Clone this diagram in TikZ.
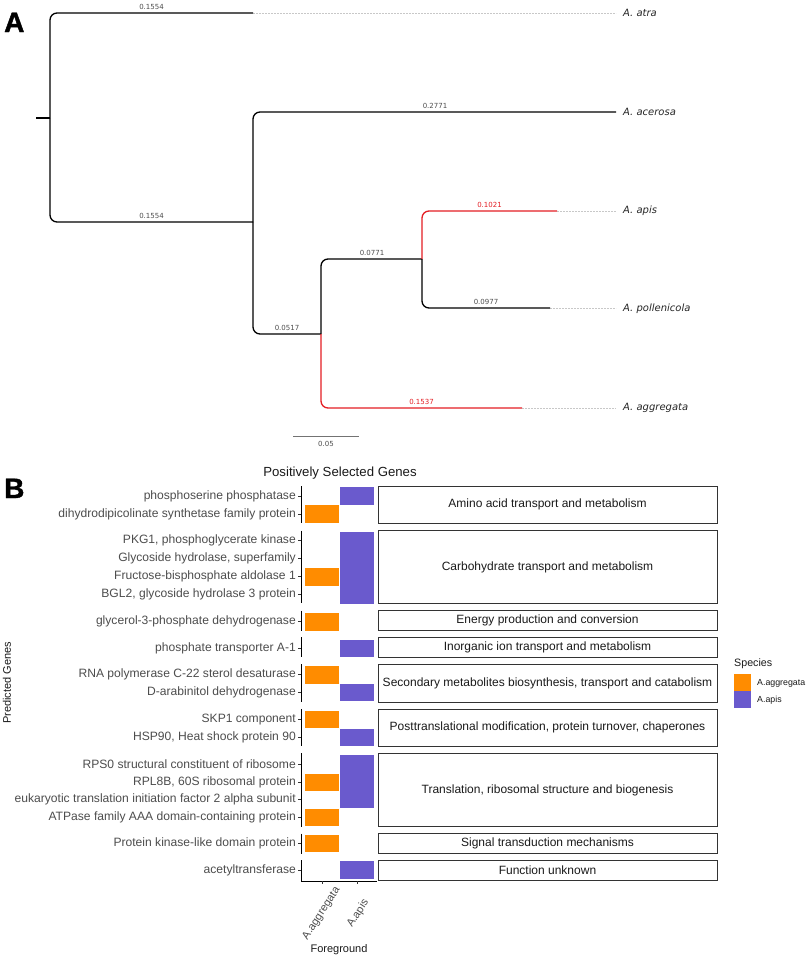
\documentclass[tikz,border=0pt]{standalone}
\usepackage{fontspec}
\setmainfont{Liberation Sans}
\newfontfamily\dejavu{DejaVu Sans}
\newfontfamily\heavy[FakeBold=1.5]{Liberation Sans Bold}
\definecolor{treered}{RGB}{228,30,36}
\definecolor{extgray}{RGB}{200,200,200}
\definecolor{orng}{RGB}{255,140,0}
\definecolor{purp}{RGB}{106,90,205}
\definecolor{txtgray}{RGB}{77,77,77}
\definecolor{darktxt}{RGB}{26,26,26}
\definecolor{boxgray}{RGB}{51,51,51}
\tikzset{
  branch/.style={line width=1.3pt, rounded corners=7pt},
  extline/.style={extgray, line width=0.6pt, dash pattern=on 2pt off 1pt},
  blab/.style={font=\dejavu\fontsize{7}{8}\selectfont, text=txtgray, inner sep=0pt, anchor=base},
  redlab/.style={blab, text=treered},
  tiplab/.style={font=\dejavu\itshape\fontsize{10}{12}\selectfont, text=black!85, inner sep=0pt, anchor=west},
  genelbl/.style={font=\fontsize{12.1}{14}\selectfont, text=txtgray, inner sep=0pt, anchor=east},
  stripbox/.style={draw=boxgray, line width=0.9pt, minimum width=339pt, inner sep=0pt, font=\fontsize{12}{14}\selectfont, text=darktxt},
  axisln/.style={line width=0.8pt, black},
  tickln/.style={line width=0.6pt, black!80},
  xtick/.style={font=\fontsize{11}{13}\selectfont, text=txtgray, inner sep=0pt, rotate=57},
  panellab/.style={font=\heavy\fontsize{28}{30}\selectfont, inner sep=0pt, anchor=base west},
}
\begin{document}
\begin{tikzpicture}[x=1pt,y=-1pt]
\useasboundingbox[fill=white] (0,0) rectangle (808,959);

% ---------------- Panel A ----------------
\node[panellab] (labA) at (4,32) {A};

\coordinate (r0) at (36,118);
\coordinate (n1) at (50,118);
\coordinate (n2) at (253,222);
\coordinate (n3) at (321,334);
\coordinate (n4) at (422,259);
\coordinate (tatra) at (253,13);
\coordinate (tacer) at (616,112);
\coordinate (tapis) at (557,211);
\coordinate (tpoll) at (550,308);
\coordinate (tagg) at (522,408);
\coordinate (eatra) at (616,13);
\coordinate (eapis) at (616,211);
\coordinate (epoll) at (616,308);
\coordinate (eagg) at (616,408);

\draw[extline] (tatra) -- (eatra);
\draw[extline] (tapis) -- (eapis);
\draw[extline] (tpoll) -- (epoll);
\draw[extline] (tagg) -- (eagg);

\draw[branch] (r0) -- (n1);
\draw[branch] (n1) |- (tatra);
\draw[branch] (n1) |- (n2);
\draw[branch] (n2) |- (tacer);
\draw[branch] (n2) |- (n3);
\draw[branch] (n3) |- (n4);
\draw[branch, treered] (n3) |- (tagg);
\draw[branch, treered] (n4) |- (tapis);
\draw[branch] (n4) |- (tpoll);

\node[blab] (l1) at (151.5,9) {0.1554};
\node[blab] (l2) at (151.5,218) {0.1554};
\node[blab] (l3) at (435,108) {0.2771};
\node[blab] (l4) at (287,330) {0.0517};
\node[blab] (l5) at (372,255) {0.0771};
\node[redlab] (l6) at (489.5,207) {0.1021};
\node[blab] (l7) at (486,304) {0.0977};
\node[redlab] (l8) at (421.5,404) {0.1537};

\node[tiplab] (sp1) at (623,13) {A. atra};
\node[tiplab] (sp2) at (623,112) {A. acerosa};
\node[tiplab] (sp3) at (623,211) {A. apis};
\node[tiplab] (sp4) at (623,309) {A. pollenicola};
\node[tiplab] (sp5) at (623,408) {A. aggregata};

\coordinate (sb1) at (293,436);
\coordinate (sb2) at (359,436);
\draw[black!55, line width=0.7pt] (sb1) -- (sb2);
\node[blab, anchor=center] (sbl) at (326,444) {0.05};

% ---------------- Panel B ----------------
\node[panellab] (labB) at (4,498) {B};
\node[font=\fontsize{13.2}{15}\selectfont, text=darktxt, inner sep=0pt] (title) at (340,473) {Positively Selected Genes};

% bars
\fill[orng] (305,505.2) rectangle (339,522.8);
\fill[orng] (305,567.9) rectangle (339,585.5);
\fill[orng] (305,612.9) rectangle (339,630.5);
\fill[orng] (305,665.9) rectangle (339,683.5);
\fill[orng] (305,710.5) rectangle (339,728.1);
\fill[orng] (305,773.5) rectangle (339,791.1);
\fill[orng] (305,808.5) rectangle (339,826.1);
\fill[orng] (305,834.5) rectangle (339,852.1);

\fill[purp] (340,487.2) rectangle (374,504.8);
\fill[purp] (340,531.9) rectangle (374,603.5);
\fill[purp] (340,639.5) rectangle (374,657.1);
\fill[purp] (340,683.5) rectangle (374,701.1);
\fill[purp] (340,728.5) rectangle (374,746.1);
\fill[purp] (340,755.2) rectangle (374,808.1);
\fill[purp] (340,861.2) rectangle (374,878.8);

% gene labels and ticks
\foreach \yy in {496,514,540.7,558.7,576.7,594.7,621.7,648.3,674.7,692.3,719.3,737.3,764,782.3,799.3,817.3,843.3,870}
  \draw[tickln] (298,\yy) -- (301,\yy);

\node[genelbl] (g1) at (296,496) {phosphoserine phosphatase};
\node[genelbl] (g2) at (296,514) {dihydrodipicolinate synthetase family protein};
\node[genelbl] (g3) at (296,540.7) {PKG1, phosphoglycerate kinase};
\node[genelbl] (g4) at (296,558.7) {Glycoside hydrolase, superfamily};
\node[genelbl] (g5) at (296,576.7) {Fructose-bisphosphate aldolase 1};
\node[genelbl] (g6) at (296,594.7) {BGL2, glycoside hydrolase 3 protein};
\node[genelbl] (g7) at (296,621.7) {glycerol-3-phosphate dehydrogenase};
\node[genelbl] (g8) at (296,648.3) {phosphate transporter A-1};
\node[genelbl] (g9) at (296,674.7) {RNA polymerase C-22 sterol desaturase};
\node[genelbl] (g10) at (296,692.3) {D-arabinitol dehydrogenase};
\node[genelbl] (g11) at (296,719.3) {SKP1 component};
\node[genelbl] (g12) at (296,737.3) {HSP90, Heat shock protein 90};
\node[genelbl] (g13) at (296,764) {RPS0 structural constituent of ribosome};
\node[genelbl] (g14) at (296,782.3) {RPL8B, 60S ribosomal protein\ };
\node[genelbl] (g15) at (296,799.3) {eukaryotic translation initiation factor 2 alpha subunit};
\node[genelbl] (g16) at (296,817.3) {ATPase family AAA domain-containing protein};
\node[genelbl] (g17) at (296,843.3) {Protein kinase-like domain protein};
\node[genelbl] (g18) at (296,870) {acetyltransferase};

% y axis segments per facet
\foreach \ya/\yb in {486/523,530.7/603.3,610.7/630.7,637.3/657.3,664/702,709/746.3,753.3/826.7,833.7/853.7,860.3/881}
  \draw[axisln] (301,\ya) -- (301,\yb);

% x axis
\coordinate (xa1) at (301,881);
\coordinate (xa2) at (377,881);
\draw[axisln] (xa1) -- (xa2);
\draw[tickln] (322,881) -- (322,884);
\draw[tickln] (357,881) -- (357,884);
\node[xtick] (xt1) at (321.5,913.5) {A.aggregata};
\node[xtick] (xt2) at (358,913.5) {A.apis};
\node[font=\fontsize{11}{13}\selectfont, text=darktxt, inner sep=0pt] (xtitle) at (339,950) {Foreground};
\node[font=\fontsize{11}{13}\selectfont, text=darktxt, inner sep=0pt, rotate=90] (ytitle) at (7,683) {Predicted Genes};

% strip boxes
\node[stripbox, minimum height=37pt] (s1) at (547.5,504.5) {Amino acid transport and metabolism};
\node[stripbox, minimum height=72.6pt] (s2) at (547.5,567) {Carbohydrate transport and metabolism};
\node[stripbox, minimum height=20pt] (s3) at (547.5,620.7) {Energy production and conversion};
\node[stripbox, minimum height=20pt] (s4) at (547.5,647.3) {Inorganic ion transport and metabolism};
\node[stripbox, minimum height=38pt] (s5) at (547.5,683) {Secondary metabolites biosynthesis, transport and catabolism};
\node[stripbox, minimum height=37.3pt] (s6) at (547.5,727.65) {Posttranslational modification, protein turnover, chaperones};
\node[stripbox, minimum height=73.4pt] (s7) at (547.5,790) {Translation, ribosomal structure and biogenesis};
\node[stripbox, minimum height=20pt] (s8) at (547.5,843.7) {Signal transduction mechanisms};
\node[stripbox, minimum height=20.4pt] (s9) at (547.5,870.5) {Function unknown};

% legend
\node[font=\fontsize{10.7}{12}\selectfont, text=darktxt, inner sep=0pt, anchor=west] (legt) at (734,664) {Species};
\fill[orng] (734,674) rectangle (751,691);
\fill[purp] (734,691) rectangle (751,708);
\node[font=\fontsize{8.8}{10}\selectfont, text=darktxt, inner sep=0pt, anchor=west] (leg1) at (757,683) {A.aggregata};
\node[font=\fontsize{8.8}{10}\selectfont, text=darktxt, inner sep=0pt, anchor=west] (leg2) at (757,700) {A.apis};
\end{tikzpicture}
\end{document}
